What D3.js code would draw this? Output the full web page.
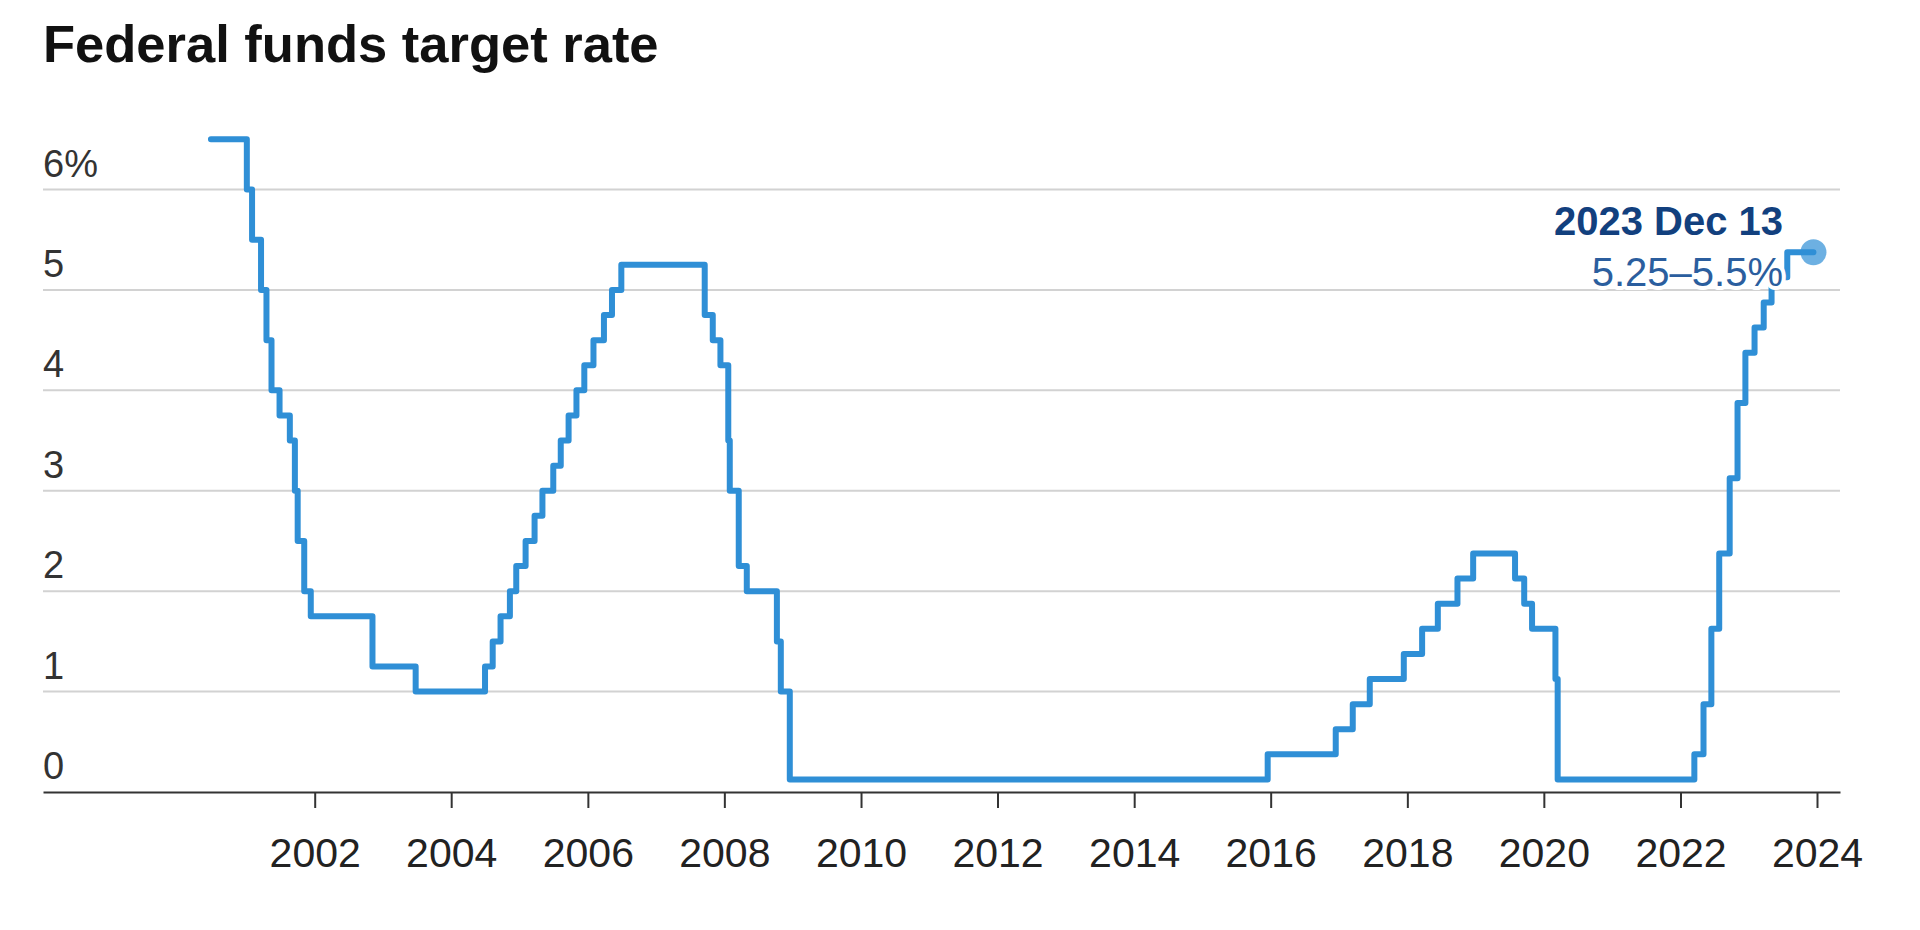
<!DOCTYPE html>
<html>
<head>
<meta charset="utf-8">
<script src="https://cdn.jsdelivr.net/npm/d3@7"></script>
<style>
  html, body { margin: 0; padding: 0; background: #fff; }
  svg { display: block; }
</style>
</head>
<body>
<svg id="chart" width="1920" height="930"></svg>
<script>
// ---- Data: Federal funds target rate changes (midpoint of target range after Dec 2008) ----
const changeDates = [
  "2000-06-25","2001-01-03","2001-01-31","2001-03-20","2001-04-18","2001-05-15","2001-06-27",
  "2001-08-21","2001-09-17","2001-10-02","2001-11-06","2001-12-11","2002-11-06","2003-06-25",
  "2004-06-30","2004-08-10","2004-09-21","2004-11-10","2004-12-14","2005-02-02","2005-03-22",
  "2005-05-03","2005-06-30","2005-08-09","2005-09-20","2005-11-01","2005-12-13","2006-01-31",
  "2006-03-28","2006-05-10","2006-06-29","2007-09-18","2007-10-31","2007-12-11","2008-01-22",
  "2008-01-30","2008-03-18","2008-04-30","2008-10-08","2008-10-29","2008-12-16","2015-12-16",
  "2016-12-14","2017-03-15","2017-06-14","2017-12-13","2018-03-21","2018-06-13","2018-09-26",
  "2018-12-19","2019-07-31","2019-09-18","2019-10-30","2020-03-03","2020-03-15","2022-03-16",
  "2022-05-04","2022-06-15","2022-07-27","2022-09-21","2022-11-02","2022-12-14","2023-02-01",
  "2023-03-22","2023-05-03","2023-07-26","2023-12-13"
];
const rateValues = [
  6.5,6.0,5.5,5.0,4.5,4.0,3.75,
  3.5,3.0,2.5,2.0,1.75,1.25,1.0,
  1.25,1.5,1.75,2.0,2.25,2.5,2.75,
  3.0,3.25,3.5,3.75,4.0,4.25,4.5,
  4.75,5.0,5.25,4.75,4.5,4.25,3.5,
  3.0,2.25,2.0,1.5,1.0,0.125,0.375,
  0.625,0.875,1.125,1.375,1.625,1.875,2.125,
  2.375,2.125,1.875,1.625,1.125,0.125,0.375,
  0.875,1.625,2.375,3.125,3.875,4.375,4.625,
  4.875,5.125,5.375,5.375
];
const yTickValues = [0, 1, 2, 3, 4, 5, 6];
const yTickLabels = ["0", "1", "2", "3", "4", "5", "6%"];
const xTickYears = [2002, 2004, 2006, 2008, 2010, 2012, 2014, 2016, 2018, 2020, 2022, 2024];
const titleText = "Federal funds target rate";
const annotDate = "2023 Dec 13";
const annotRange = "5.25\u20135.5%";

// ---- Build ----
const parse = d3.timeParse("%Y-%m-%d");
const data = changeDates.map((d, i) => ({ date: parse(d), value: rateValues[i] }));

const svg = d3.select("#chart");
const left = 43, right = 1840;

// x: calibrated so that Jan 1 2002 and Jan 1 2024 fall under their ticks
const xBase = d3.scaleTime()
  .domain([new Date(2002, 0, 1), new Date(2024, 0, 1)])
  .range([314.7, 1817]);
const x = d3.scaleTime()
  .domain([xBase.invert(left), xBase.invert(right)])
  .range([left, right]);

const y = d3.scaleLinear().domain([0, 6]).range([792, 189.5]);

const labelFont = "'Liberation Sans', Arial, sans-serif";

// Title
svg.append("text")
  .attr("x", 43).attr("y", 62)
  .attr("font-family", labelFont)
  .attr("font-weight", "bold")
  .attr("font-size", 52.5)
  .attr("fill", "#111")
  .text(titleText);

// Gridlines
svg.append("g")
  .selectAll("line")
  .data(yTickValues.filter(v => v > 0))
  .join("line")
  .attr("x1", left).attr("x2", right)
  .attr("y1", d => y(d)).attr("y2", d => y(d))
  .attr("stroke", "#d2d2d2")
  .attr("stroke-width", 2);

// Y labels (above gridlines, left aligned)
svg.append("g")
  .selectAll("text")
  .data(yTickValues)
  .join("text")
  .attr("x", left)
  .attr("y", d => y(d) - 13)
  .attr("font-family", labelFont)
  .attr("font-size", 38)
  .attr("fill", "#333")
  .text((d, i) => yTickLabels[i]);

// X axis
const xAxis = d3.axisBottom(x)
  .tickValues(xTickYears.map(yr => new Date(yr, 0, 1)))
  .tickFormat(d3.timeFormat("%Y"))
  .tickSize(16)
  .tickSizeOuter(0)
  .tickPadding(30);

const gx = svg.append("g")
  .attr("transform", `translate(0,${y(0)})`)
  .call(xAxis);
gx.select(".domain").attr("stroke", "#333").attr("stroke-width", 2);
gx.selectAll(".tick line").attr("stroke", "#333").attr("stroke-width", 2);
gx.selectAll(".tick text")
  .attr("font-family", labelFont)
  .attr("font-size", 41)
  .attr("fill", "#222");

// Step line
const line = d3.line()
  .x(d => x(d.date))
  .y(d => y(d.value))
  .curve(d3.curveStepAfter);

svg.append("path")
  .datum(data)
  .attr("d", line)
  .attr("fill", "none")
  .attr("stroke", "#2f8fd6")
  .attr("stroke-width", 6)
  .attr("stroke-linejoin", "round")
  .attr("stroke-linecap", "round");

// Annotation
const last = data[data.length - 1];
const ax = 1783;
svg.append("text")
  .attr("x", ax).attr("y", 235)
  .attr("text-anchor", "end")
  .attr("font-family", labelFont)
  .attr("font-weight", "bold")
  .attr("font-size", 40)
  .attr("fill", "#12407e")
  .attr("stroke", "#fff").attr("stroke-width", 8).attr("paint-order", "stroke")
  .attr("stroke-linejoin", "round")
  .text(annotDate);
svg.append("text")
  .attr("x", ax).attr("y", 286)
  .attr("text-anchor", "end")
  .attr("font-family", labelFont)
  .attr("font-size", 40)
  .attr("fill", "#2b5e9e")
  .attr("stroke", "#fff").attr("stroke-width", 8).attr("paint-order", "stroke")
  .attr("stroke-linejoin", "round")
  .text(annotRange);

// End dot
svg.append("circle")
  .attr("cx", x(last.date))
  .attr("cy", y(last.value))
  .attr("r", 13)
  .attr("fill", "#2f8fd6")
  .attr("fill-opacity", 0.7);
</script>
</body>
</html>
